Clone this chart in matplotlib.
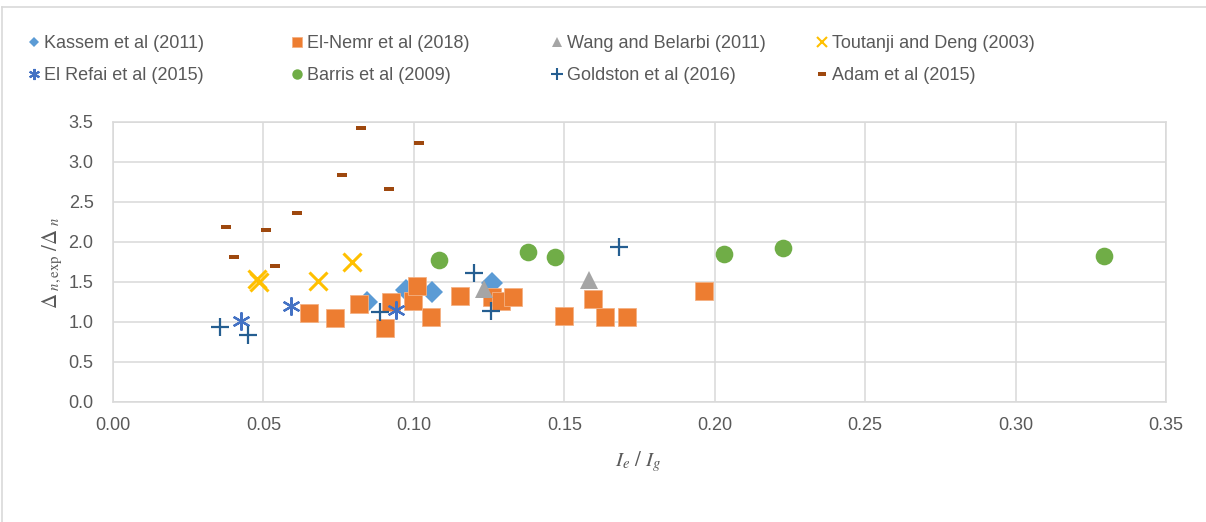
import numpy as np
import matplotlib
matplotlib.use('Agg')
import matplotlib.pyplot as plt
from matplotlib.path import Path
from matplotlib.lines import Line2D
from matplotlib.ticker import FormatStrFormatter

# --- data (x = Ie/Ig, y = deflection ratio) ---
kassem_x = [0.0844, 0.0974, 0.1060, 0.1260]
kassem_y = [1.25, 1.40, 1.38, 1.49]

elnemr_x = [0.0651, 0.0738, 0.0818, 0.0904, 0.0924, 0.0997, 0.1010, 0.1057, 0.1153,
            0.1260, 0.1289, 0.1329, 0.1499, 0.1595, 0.1635, 0.1708, 0.1964]
elnemr_y = [1.11, 1.05, 1.23, 0.93, 1.25, 1.26, 1.45, 1.06, 1.33,
            1.31, 1.26, 1.31, 1.08, 1.29, 1.06, 1.06, 1.39]

wang_x = [0.1233, 0.1582]
wang_y = [1.41, 1.53]

toutanji_x = [0.0479, 0.0485, 0.0681, 0.0794]
toutanji_y = [1.54, 1.50, 1.51, 1.75]

elrefai_x = [0.0425, 0.0592, 0.0941]
elrefai_y = [1.01, 1.20, 1.15]

barris_x = [0.1083, 0.1379, 0.1469, 0.2031, 0.2227, 0.3295]
barris_y = [1.78, 1.88, 1.81, 1.85, 1.92, 1.82]

goldston_x = [0.0356, 0.0449, 0.0887, 0.1200, 0.1256, 0.1682]
goldston_y = [0.94, 0.84, 1.13, 1.61, 1.14, 1.94]

adam_x = [0.0824, 0.1017, 0.0761, 0.0917, 0.0611, 0.0376, 0.0508, 0.0402, 0.0538]
adam_y = [3.43, 3.24, 2.84, 2.66, 2.36, 2.19, 2.15, 1.81, 1.70]

GRID = '#D9D9D9'
TEXT = '#595959'

plt.rcParams.update({
    'font.family': ['Liberation Sans', 'DejaVu Sans'],
    'mathtext.fontset': 'stix',
})

# small rectangle used by Excel for the "dash" marker
dash = Path([(-1, -0.5), (1, -0.5), (1, 0.5), (-1, 0.5), (-1, -0.5)],
            [Path.MOVETO, Path.LINETO, Path.LINETO, Path.LINETO, Path.CLOSEPOLY])

fig = plt.figure(figsize=(12.06, 5.22), dpi=100)
ax = fig.add_axes([113 / 1206, 1 - 402 / 522, (1166 - 113) / 1206, 280 / 522])

# (label, x, y, plot style, legend marker size)
series = [
    ('Kassem et al (2011)', kassem_x, kassem_y,
     dict(marker='D', color='#5B9BD5', markersize=11.5, markeredgewidth=0), 5.5),
    ('El-Nemr et al (2018)', elnemr_x, elnemr_y,
     dict(marker='s', color='#ED7D31', markersize=12.5, markeredgecolor='#F4B183',
          markeredgewidth=0.6), 7),
    ('Wang and Belarbi (2011)', wang_x, wang_y,
     dict(marker='^', color='#A5A5A5', markersize=13, markeredgewidth=0), 7.5),
    ('Toutanji and Deng (2003)', toutanji_x, toutanji_y,
     dict(marker='x', color='#FFC000', markersize=13, markeredgewidth=2.2), 7),
    ('El Refai et al (2015)', elrefai_x, elrefai_y,
     dict(marker=(6, 2, 0), color='#4472C4', markersize=13, markeredgewidth=1.6), 8),
    ('Barris et al (2009)', barris_x, barris_y,
     dict(marker='o', color='#70AD47', markersize=12.7, markeredgewidth=0), 7.5),
    ('Goldston et al (2016)', goldston_x, goldston_y,
     dict(marker='+', color='#255E91', markersize=12.5, markeredgewidth=1.6), 8),
    ('Adam et al (2015)', adam_x, adam_y,
     dict(marker=dash, color='#9E480E', markersize=6.8, markeredgewidth=0), 5.5),
]

handles = []
leg_sizes = []
for label, xs, ys, style, lsize in series:
    h, = ax.plot(xs, ys, linestyle='none', label=label, **style)
    handles.append(h)
    leg_sizes.append(lsize)

ax.set_xlim(0, 0.35)
ax.set_ylim(0, 3.5)
ax.set_xticks(np.arange(0, 0.351, 0.05))
ax.set_yticks(np.arange(0, 3.51, 0.5))
ax.xaxis.set_major_formatter(FormatStrFormatter('%.2f'))
ax.yaxis.set_major_formatter(FormatStrFormatter('%.1f'))
ax.grid(True, color=GRID, linewidth=1.1)
ax.set_axisbelow(True)
for sp in ax.spines.values():
    sp.set_color(GRID)
    sp.set_linewidth(1.1)
ax.tick_params(axis='both', length=0, labelcolor=TEXT, labelsize=13)
ax.tick_params(axis='x', pad=11)
ax.tick_params(axis='y', pad=14)

fig.text(638 / 1206, 1 - 462 / 522, r'$I_e\ /\ I_g$', ha='center', va='center',
         fontsize=15, color=TEXT)
fig.text(53 / 1206, 1 - 263 / 522, r'$\Delta_{\ n,\mathrm{exp}}\ /\Delta_{\ n}$',
         ha='center', va='center', rotation=90, fontsize=15, color=TEXT)

# legend: four columns of two entries, like the Excel layout
col_left = [27, 290, 550, 815]
pairs = [(0, 4), (1, 5), (2, 6), (3, 7)]
for left, (a, b) in zip(col_left, pairs):
    leg = fig.legend([handles[a], handles[b]], [handles[a].get_label(), handles[b].get_label()],
                     loc='upper left', bbox_to_anchor=(left / 1206, 1 - 35 / 522),
                     frameon=False, fontsize=13, labelcolor=TEXT,
                     handlelength=0.8, handletextpad=0.15, borderpad=0, borderaxespad=0,
                     labelspacing=0.85)
    for lh, idx in zip(leg.legend_handles, (a, b)):
        lh.set_markersize(leg_sizes[idx])
        if handles[idx].get_marker() in ('x', '+') or idx == 4:
            lh.set_markeredgewidth(1.5)

# outer chart border (top and left edges visible in the reference)
fig.add_artist(Line2D([2 / 1206, 1], [1 - 7 / 522, 1 - 7 / 522], color=GRID, linewidth=1.2))
fig.add_artist(Line2D([2 / 1206, 2 / 1206], [0, 1 - 7 / 522], color=GRID, linewidth=1.2))

fig.savefig('out.png', dpi=100, facecolor='white')
